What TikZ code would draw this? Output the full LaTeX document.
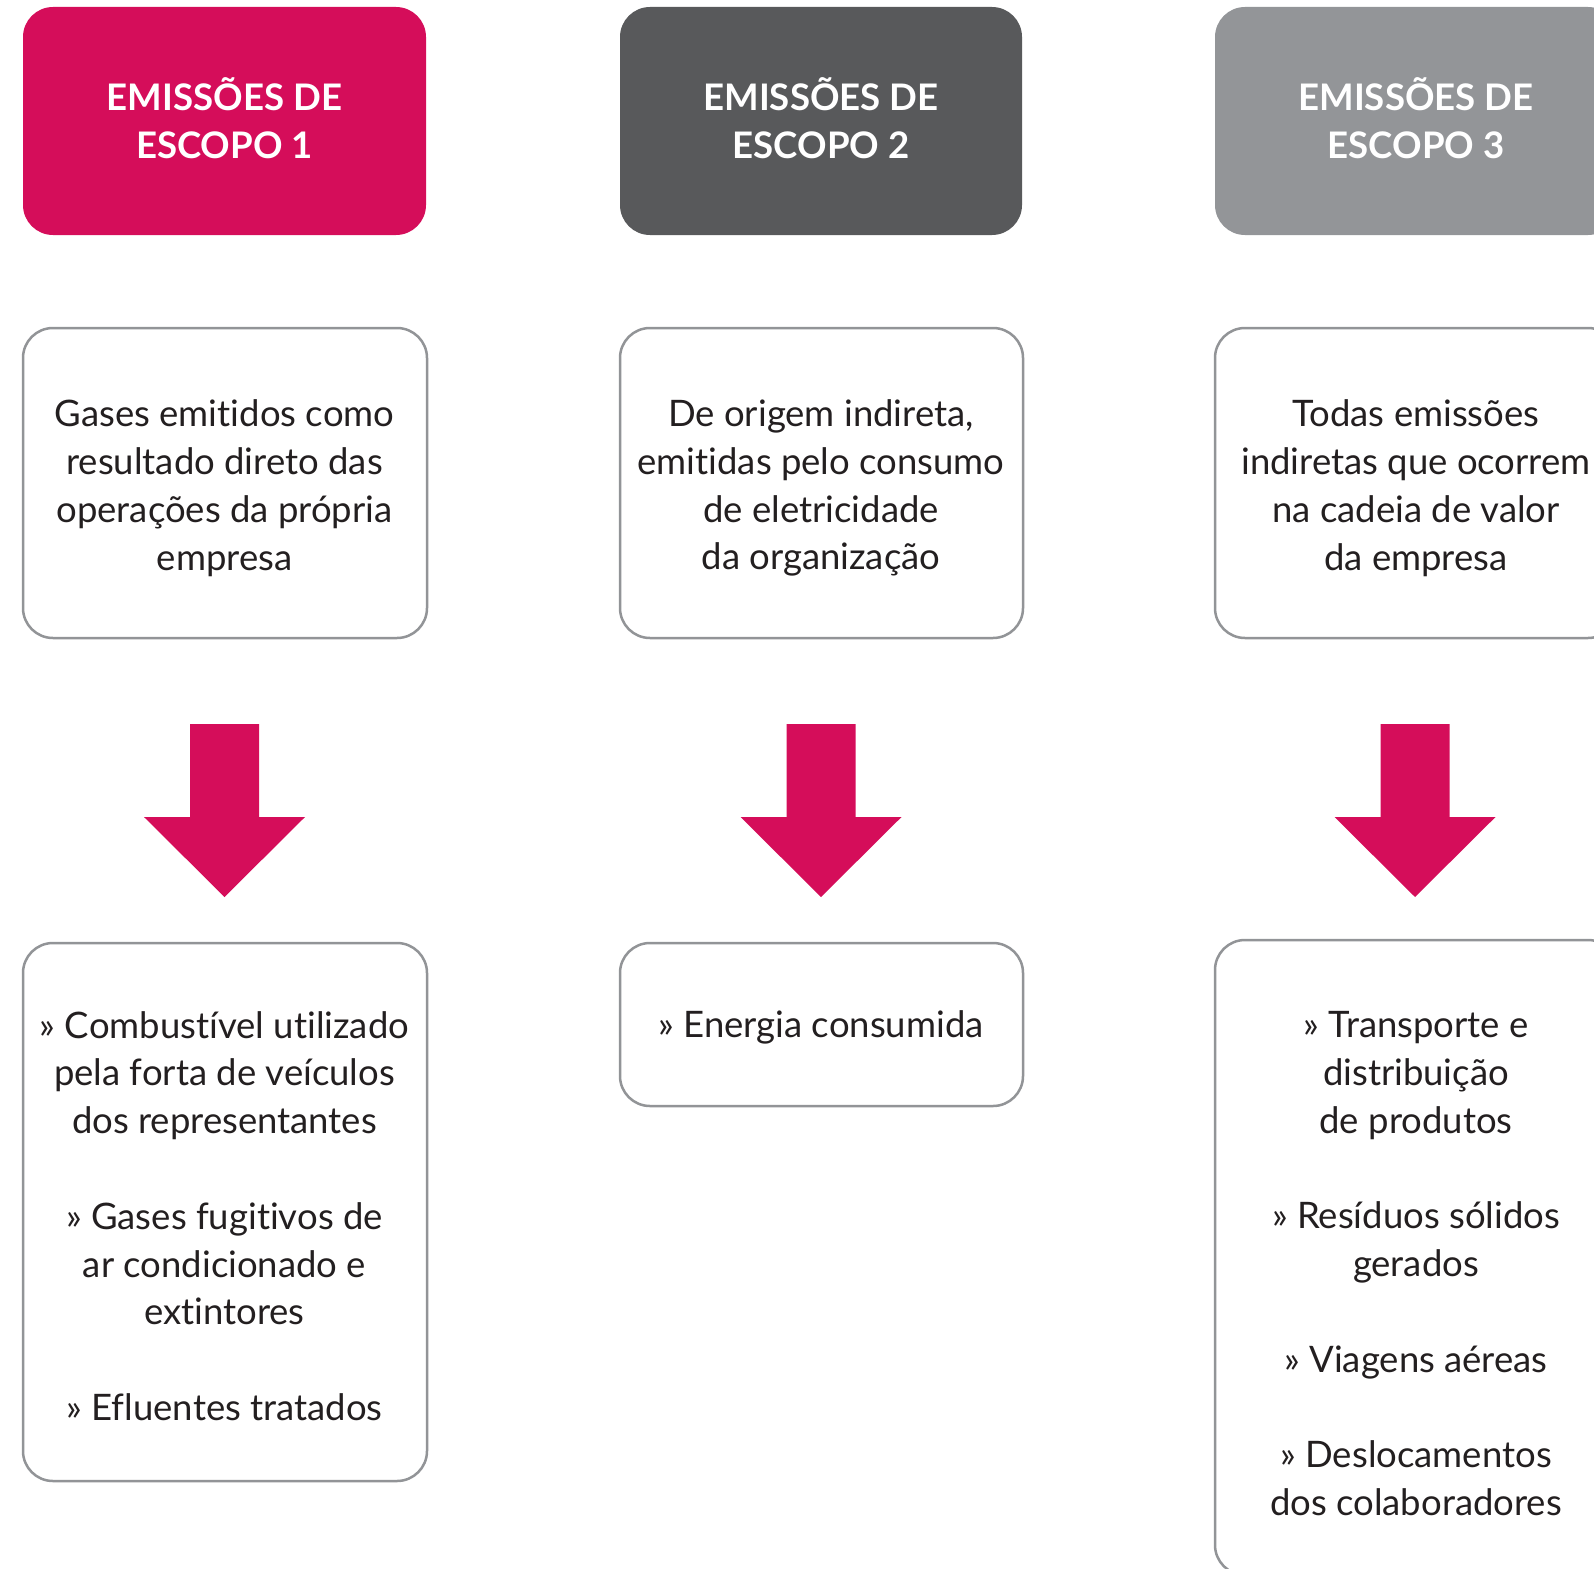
\documentclass[tikz,border=0pt]{standalone}
\usepackage{fontspec}
\setmainfont{Lato}[Ligatures={NoCommon}]
\definecolor{magentaR}{HTML}{D50D5A}
\definecolor{darkG}{HTML}{58595B}
\definecolor{lightG}{HTML}{939598}
\definecolor{borderG}{HTML}{929497}
\definecolor{txtC}{HTML}{231F20}
\tikzset{
  hdr/.style={fill=#1, draw=none, rounded corners=30pt},
  hdrtext/.style={text=white, align=center, font={\fontsize{36.6}{47.8}\selectfont\bfseries}},
  card/.style={draw=borderG, line width=2.5pt, fill=white, rounded corners=30pt},
  cardtext/.style={text=txtC, align=center, font={\fontsize{36.5}{47.8}\selectfont}},
  bigarrow/.style={fill=magentaR, draw=none}
}
\begin{document}
\begin{tikzpicture}[x=1pt,y=-1pt]
\useasboundingbox (0,0) rectangle (1594,1568);
\clip (0,0) rectangle (1594,1568);
% headers
\draw[hdr=magentaR] (23,7) rectangle (426,235);
\draw[hdr=darkG] (620,7) rectangle (1022,235);
\draw[hdr=lightG] (1215,7) rectangle (1618,235);
\node[hdrtext] (h1) at (224.5,118) {EMISSÕES DE\\ESCOPO 1};
\node[hdrtext] (h2) at (821,118) {EMISSÕES DE\\ESCOPO 2};
\node[hdrtext] (h3) at (1416,118) {EMISSÕES DE\\ESCOPO 3};
% middle cards
\draw[card] (23,328) rectangle (427,638);
\draw[card] (620,328) rectangle (1023,638);
\draw[card] (1215,328) rectangle (1618,638);
\node[cardtext] (m1) at (224.5,488) {Gases emitidos como\\resultado direto das\\operações da própria\\empresa};
\node[cardtext] (m2) at (821,488) {De origem indireta,\\emitidas pelo consumo\\de eletricidade\\da organização};
\node[cardtext] (m3) at (1416,488) {Todas emissões\\indiretas que ocorrem\\na cadeia de valor\\da empresa};
% arrows
\foreach \cx in {224.5,821,1415}{
  \fill[bigarrow] (\cx-34.5,724) -- (\cx+34.5,724) -- (\cx+34.5,817) -- (\cx+80.5,817)
     -- (\cx,897) -- (\cx-80.5,817) -- (\cx-34.5,817) -- cycle;
}
% bottom cards
\draw[card] (23,943) rectangle (427,1481);
\draw[card] (620,943) rectangle (1023,1106);
\draw[card] (1215,940) rectangle (1618,1575);
\node[cardtext] (b1) at (224.5,1216) {» Combustível utilizado\\pela forta de veículos\\dos representantes\\[47.8pt]» Gases fugitivos de\\ar condicionado e\\extintores\\[47.8pt]» Efluentes tratados};
\node[cardtext] (b2) at (821,1027.5) {» Energia consumida};
\node[cardtext] (b3) at (1416,1263.6) {» Transporte e\\distribuição\\de produtos\\[47.8pt]» Resíduos sólidos\\gerados\\[47.8pt]» Viagens aéreas\\[47.8pt]» Deslocamentos\\dos colaboradores};
\end{tikzpicture}
\end{document}
